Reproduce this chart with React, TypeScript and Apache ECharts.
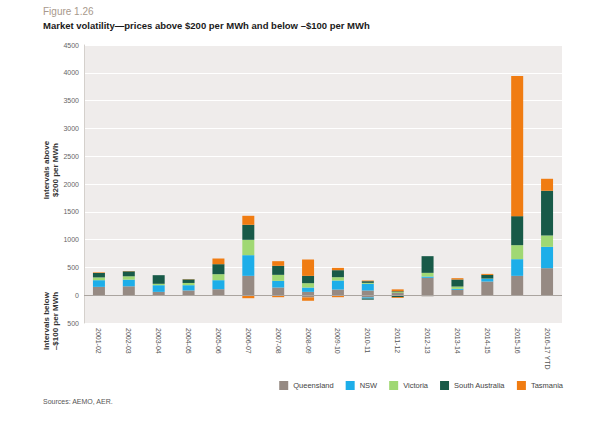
import React, { useEffect, useRef } from "react";
import * as echarts from "echarts";

const categories = ["2001-02","2002-03","2003-04","2004-05","2005-06","2006-07","2007-08","2008-09","2009-10","2010-11","2011-12","2012-13","2013-14","2014-15","2015-16","2016-17 YTD"];
const states = ["Queensland", "NSW", "Victoria", "South Australia", "Tasmania"];
const colors = ["#968a83", "#1daee9", "#a0d873", "#185a48", "#f07c12"];

// intervals above $200/MWh
const qldAbove = [150, 160, 60, 85, 108, 348, 138, 60, 102, 84, 40, 312, 96, 246, 348, 486];
const nswAbove = [120, 120, 120, 95, 162, 372, 120, 78, 162, 120, 0, 24, 18, 48, 300, 384];
const vicAbove = [50, 60, 25, 40, 108, 276, 108, 78, 60, 18, 15, 66, 42, 5, 252, 204];
const saAbove = [80, 90, 155, 65, 180, 270, 162, 132, 126, 30, 15, 300, 126, 66, 522, 804];
const tasAbove = [10, 5, 0, 5, 102, 162, 84, 294, 42, 12, 35, 0, 24, 18, 2520, 216];

// intervals below -$100/MWh
const qldBelow = [0, 0, 0, 0, 0, 0, 0, -40, 0, -40, 0, -20, 0, 0, 0, 0];
const nswBelow = [0, 0, 0, 0, 0, 0, 0, 0, 0, -20, 0, 0, 0, 0, 0, 0];
const vicBelow = [0, 0, 0, 0, 0, 0, 0, 0, 0, 0, 0, 0, 0, 0, 0, 0];
const saBelow = [0, 0, 0, 0, 0, 0, 0, 0, 0, -20, -35, 0, 0, 0, 0, 0];
const tasBelow = [0, 0, 0, 0, -10, -54, -36, -60, -36, 0, -15, 0, -10, 0, 0, 0];

const yTicks = { min: -500, max: 4500, interval: 500 };

export default function App() {
  const ref = useRef<HTMLDivElement>(null);
  useEffect(() => {
    if (!ref.current) return;
    const chart = echarts.init(ref.current, null, { renderer: "svg" });
    const above = [qldAbove, nswAbove, vicAbove, saAbove, tasAbove];
    const below = [qldBelow, nswBelow, vicBelow, saBelow, tasBelow];
    const series: any[] = [];
    states.forEach((s, i) => {
      series.push({
        name: s,
        type: "bar",
        stack: "total",
        barWidth: 12,
        itemStyle: { color: colors[i] },
        data: above[i],
        ...(i === 0
          ? {
              markLine: {
                silent: true,
                symbol: "none",
                label: { show: false },
                lineStyle: { color: "#aaa49f", width: 1, type: "solid" },
                data: [{ yAxis: 0 }],
              },
            }
          : {}),
      });
    });
    states.forEach((s, i) => {
      series.push({
        name: s,
        type: "bar",
        stack: "total",
        barWidth: 12,
        itemStyle: { color: colors[i] },
        data: below[i],
      });
    });
    const font = "Liberation Sans";
    chart.setOption({
      animation: false,
      textStyle: { fontFamily: font },
      grid: {
        left: 84,
        right: 28,
        top: 45,
        bottom: 98,
        show: true,
        backgroundColor: "#efeceb",
        borderWidth: 0,
      },
      legend: {
        data: states,
        right: 22,
        top: 376,
        icon: "rect",
        itemWidth: 9,
        itemHeight: 9,
        itemGap: 12,
        textStyle: { fontSize: 7.5, color: "#444", fontFamily: font },
      },
      xAxis: {
        type: "category",
        data: categories,
        axisLine: { show: false, onZero: false },
        axisTick: { show: false },
        axisLabel: {
          rotate: -90,
          fontSize: 7,
          color: "#555",
          margin: 5,
          interval: 0,
          fontFamily: font,
        },
      },
      yAxis: {
        type: "value",
        min: yTicks.min,
        max: yTicks.max,
        interval: yTicks.interval,
        axisLine: { show: true, lineStyle: { color: "#d4d0cc" } },
        axisTick: { show: false },
        splitLine: { lineStyle: { color: "#ffffff", width: 1 } },
        axisLabel: {
          fontSize: 7,
          color: "#666",
          margin: 5,
          fontFamily: font,
          formatter: (v: number) => String(Math.abs(v)),
        },
      },
      graphic: [
        {
          type: "text",
          left: 43,
          top: 6,
          style: { text: "Figure 1.26", fontSize: 10, fill: "#a8998c", fontFamily: font },
        },
        {
          type: "text",
          left: 43,
          top: 20,
          style: {
            text: "Market volatility\u2014prices above $200 per MWh and below \u2013$100 per MWh",
            fontSize: 9.5,
            fontWeight: "bold",
            fill: "#1a1a1a",
            fontFamily: font,
          },
        },
        {
          type: "text",
          x: 51,
          y: 170,
          rotation: Math.PI / 2,
          style: {
            text: "Intervals above\n$200 per MWh",
            fontSize: 8,
            fontWeight: "bold",
            fill: "#333",
            textAlign: "center",
            textVerticalAlign: "middle",
            lineHeight: 9,
            fontFamily: font,
          },
        },
        {
          type: "text",
          x: 51,
          y: 321,
          rotation: Math.PI / 2,
          style: {
            text: "Intervals below\n\u2013$100 per MWh",
            fontSize: 8,
            fontWeight: "bold",
            fill: "#333",
            textAlign: "center",
            textVerticalAlign: "middle",
            lineHeight: 9,
            fontFamily: font,
          },
        },
        {
          type: "text",
          left: 43,
          top: 398,
          style: { text: "Sources: AEMO, AER.", fontSize: 7, fill: "#555", fontFamily: font },
        },
      ],
      series,
    });
    return () => chart.dispose();
  }, []);
  return (
    <div
      ref={ref}
      style={{ position: "fixed", left: 0, top: 0, width: 590, height: 421, background: "#fff" }}
    />
  );
}
